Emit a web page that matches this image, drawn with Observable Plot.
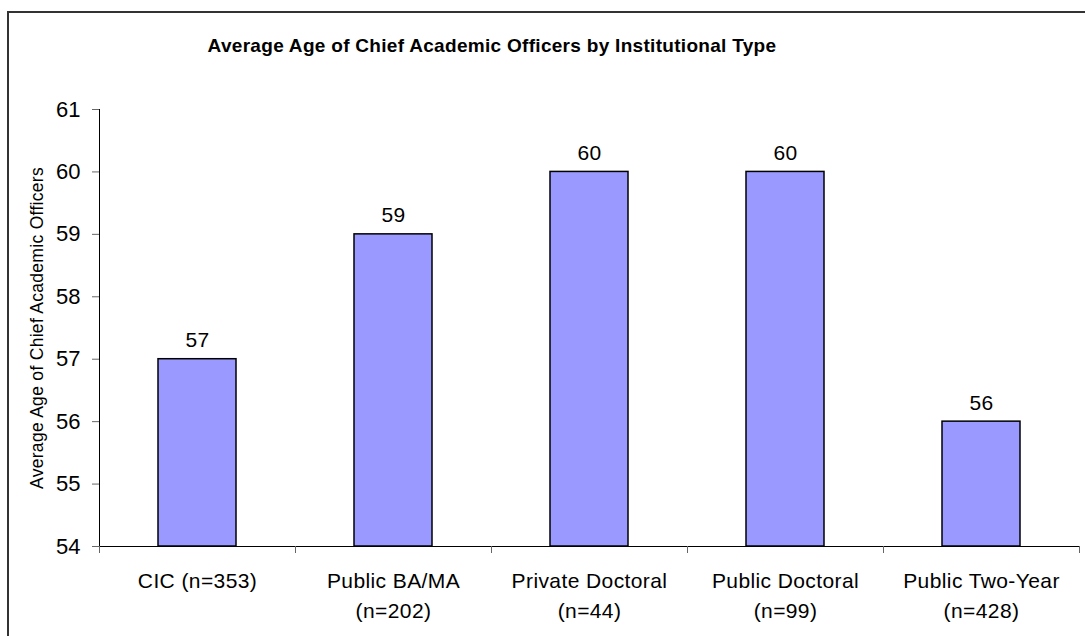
<!DOCTYPE html>
<html>
<head>
<meta charset="utf-8">
<script src="https://cdn.jsdelivr.net/npm/d3@7"></script>
<script src="https://cdn.jsdelivr.net/npm/@observablehq/plot@0.6"></script>
<style>
  html, body { margin: 0; padding: 0; background: #fff; overflow: hidden; }
  #wrap { position: relative; width: 1085px; height: 636px; overflow: hidden; font-family: "Liberation Sans", Arial, sans-serif; }
  #border { position: absolute; left: 7px; top: 11px; width: 1100px; height: 700px; border: 2px solid #333; box-sizing: border-box; pointer-events: none; }
  #title { position: absolute; left: 0; width: 984px; top: 35px; text-align: center; font-weight: bold; font-size: 19px; letter-spacing: 0.3px; color: #000; }
  #chart { position: absolute; left: 0; top: 0; }
  .wide text { letter-spacing: 0.4px; }
  .ylab text { letter-spacing: 0.3px; }
</style>
</head>
<body>
<div id="wrap">
  <div id="chart"></div>
  <div id="border"></div>
  <div id="title">Average Age of Chief Academic Officers by Institutional Type</div>
</div>
<script>
const categories = ["CIC (n=353)", "Public BA/MA\n(n=202)", "Private Doctoral\n(n=44)", "Public Doctoral\n(n=99)", "Public Two-Year\n(n=428)"];
const ages = [57, 59, 60, 60, 56];
const yTicks = [54, 55, 56, 57, 58, 59, 60, 61];
const yLabel = "Average Age of Chief Academic Officers";

const data = categories.map((c, i) => ({category: c, age: ages[i]}));
const step = (1079 - 99) / categories.length;
const font = "Liberation Sans, Arial, sans-serif";

const chart = Plot.plot({
  width: 1085,
  height: 636,
  marginLeft: 99,
  marginRight: 6,
  marginTop: 109,
  marginBottom: 90,
  style: {fontFamily: font, fontSize: "20px", color: "#000", background: "transparent"},
  x: {domain: categories, paddingInner: 0.6, paddingOuter: 0.3, label: null},
  y: {domain: [54, 61], label: null},
  marks: [
    Plot.barY(data, {x: "category", y1: 54, y2: "age", fill: "#9999FF", stroke: "#000", strokeWidth: 1.5}),
    Plot.text(data, {x: "category", y: "age", text: d => String(d.age), lineAnchor: "bottom", dy: -12, fontSize: 21, fill: "#000", className: "wide"}),
    Plot.frame({anchor: "left", stroke: "#000"}),
    Plot.ruleY([54], {stroke: "#000"}),
    Plot.axisY(yTicks, {tickSize: 7, tickPadding: 12, fontSize: 22, stroke: "#666", tickFormat: "d", label: null}),
    Plot.axisX(categories, {tickSize: 7, dx: -step / 2, text: null, stroke: "#666", label: null}),
    Plot.axisX([categories[categories.length - 1]], {tickSize: 7, dx: step / 2, text: null, stroke: "#666", label: null}),
    Plot.axisX(categories, {tickSize: 0, tickPadding: 20, fontSize: 21, lineHeight: 1.43, label: null, className: "wide"}),
    Plot.text([yLabel], {frameAnchor: "left", rotate: -90, dx: -62, textAnchor: "middle", lineAnchor: "middle", fontSize: 17.5, fill: "#000", className: "ylab"})
  ]
});
document.getElementById("chart").appendChild(chart);
</script>
</body>
</html>
